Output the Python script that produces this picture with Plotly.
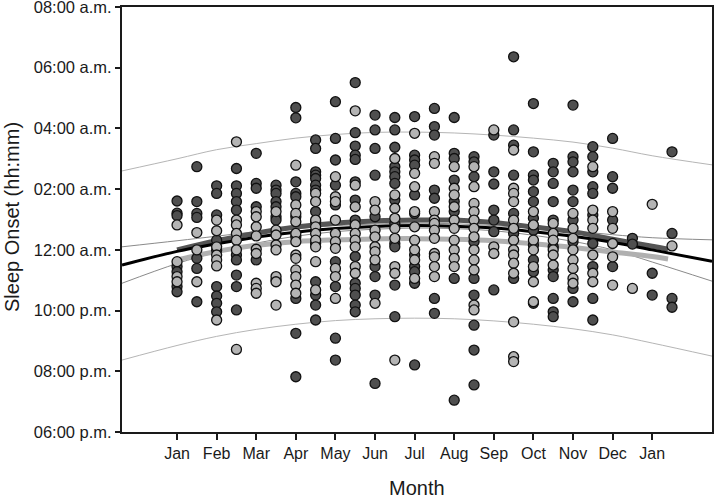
import plotly.graph_objects as go

# ---- data (hours; 24 = midnight, values > 24 are after midnight) ----
column_months = [1, 1.5, 2, 2.5, 3, 3.5, 4, 4.5, 5, 5.5, 6, 6.5, 7, 7.5,
                 8, 8.5, 9, 9.5, 10, 10.5, 11, 11.5, 12, 12.5, 13, 13.5]

dark_values = [
    [25.61, 25.21, 25.13, 23.45, 23.28, 22.79, 22.62],
    [26.74, 25.59, 25.2, 25.07, 23.72, 23.39, 22.29],
    [26.11, 25.86, 25.15, 24.32, 23.99, 22.79, 22.48, 22.24, 21.96],
    [26.68, 26.11, 25.86, 25.59, 25.31, 23.83, 23.67, 23.17, 22.79, 22.02],
    [27.18, 26.19, 26.03, 25.42, 23.67],
    [26.13, 25.97, 25.86, 25.59, 25.42, 25.09, 24.98, 23.01],
    [28.69, 28.35, 26.24, 25.86, 25.75, 25.09, 24.43, 22.4, 21.25, 19.82],
    [27.62, 27.34, 26.57, 26.46, 26.35, 26.13, 25.97, 25.26, 24.93, 24.21, 22.95, 22.51, 22.18, 21.69],
    [28.88, 27.67, 26.96, 26.13, 25.48, 23.61, 22.79, 21.09, 20.37],
    [29.51, 27.86, 27.42, 27.12, 26.98, 26.24, 25.64, 24.98, 23.78, 22.9, 22.73, 22.51, 22.18, 21.96],
    [28.44, 27.95, 27.34, 26.46, 25.09, 23.45, 23.12, 22.51, 19.6],
    [28.36, 27.95, 27.38, 26.74, 26.57, 26.41, 26.19, 25.64, 24.87, 24.21, 24.1, 22.84, 21.8],
    [28.39, 27.12, 26.96, 26.79, 25.81, 25.2, 23.83, 23.45, 23.28, 22.9, 20.21],
    [28.66, 28.06, 27.78, 25.97, 25.7, 22.4, 21.91],
    [28.36, 27.18, 27.01, 26.3, 25.59, 25.26, 23.06, 19.05],
    [27.07, 26.9, 26.41, 24.27, 23.06, 22.51, 21.52, 20.7, 19.55],
    [27.78, 26.57, 26.17, 25.31, 24.98, 24.6, 22.68],
    [30.36, 27.95, 27.45, 26.46, 25.2, 24.54, 23.06],
    [28.82, 27.23, 26.46, 26.3, 25.92, 25.59, 25.04, 24.65, 24.16, 23.67, 23.28, 22.24],
    [26.85, 26.57, 26.19, 25.59, 24.98, 24.1, 23.34, 23.12, 22.4, 21.96, 21.8],
    [28.77, 27.07, 26.9, 26.57, 25.97, 25.59, 24.98, 24.27, 22.73, 22.29],
    [27.4, 27.07, 26.57, 26.08, 25.86, 25.15, 24.21, 23.45, 22.4, 21.69],
    [27.67, 26.41, 26.03, 24.98, 23.45],
    [24.38, 24.19],
    [23.23, 22.51],
    [27.23, 24.54, 22.4, 22.11],
]

light_values = [
    [24.82, 23.61, 23.12, 22.95],
    [24.57, 24.0, 22.95],
    [24.98, 24.63, 24.1, 23.83, 23.67, 23.47, 21.69],
    [27.56, 24.98, 24.82, 24.54, 24.32, 24.0, 20.72],
    [25.26, 25.09, 24.76, 24.46, 24.02, 23.88, 22.9, 22.73, 22.57],
    [25.26, 24.65, 24.49, 24.16, 24.0, 23.12, 22.95, 22.18],
    [26.79, 25.48, 25.2, 24.93, 24.54, 24.27, 23.83, 23.72, 23.34, 23.12, 22.84, 22.57],
    [25.86, 25.59, 24.98, 24.76, 24.54, 24.32, 24.1, 23.61, 22.68],
    [26.41, 25.75, 25.59, 24.98, 24.54, 24.27, 24.05, 23.39, 23.12, 22.4],
    [28.58, 26.13, 25.42, 24.82, 24.54, 24.32, 24.1, 23.45, 23.23],
    [25.59, 25.31, 24.65, 24.43, 24.1, 23.94, 23.67, 22.24],
    [27.01, 25.81, 25.37, 25.04, 24.71, 24.38, 23.45, 23.23, 20.37],
    [27.84, 26.52, 26.08, 25.26, 24.76, 24.32, 24.0, 23.67, 23.06],
    [27.07, 26.85, 25.26, 24.98, 24.87, 24.65, 24.38, 23.88, 23.77, 23.45, 23.12],
    [26.74, 26.03, 25.81, 25.42, 24.98, 24.71, 24.32, 24.0, 23.72, 23.45],
    [26.74, 26.08, 25.53, 25.26, 24.98, 24.71, 24.43, 24.0, 23.67, 23.34, 22.18, 22.02],
    [27.95, 24.1, 23.88],
    [27.29, 26.03, 25.86, 25.59, 24.98, 24.71, 24.32, 24.0, 23.83, 23.56, 23.23, 21.63, 20.48, 20.32],
    [25.26, 24.82, 24.32, 24.0, 23.45, 22.95, 22.29],
    [24.87, 24.54, 24.32, 24.0, 23.83, 23.5],
    [25.2, 24.71, 24.38, 24.0, 23.67, 23.39, 23.06, 22.9],
    [26.74, 25.31, 24.98, 24.71, 23.83, 23.23, 22.95],
    [25.26, 24.71, 24.21, 23.77, 22.84],
    [22.73],
    [25.5],
    [24.13],
]

# fitted curves
curve_months = [-0.39, 1, 2, 3, 4, 5, 6, 7, 8, 9, 10, 11, 12, 13, 14.51]
fit_all = [23.5, 23.95, 24.2, 24.42, 24.58, 24.7, 24.77, 24.8, 24.78, 24.72, 24.6, 24.45, 24.25, 24.0, 23.62]
ci_upper = [24.1, 24.3, 24.45, 24.6, 24.7, 24.8, 24.85, 24.88, 24.86, 24.8, 24.72, 24.62, 24.5, 24.4, 24.33]
ci_lower = [22.9, 23.55, 23.92, 24.22, 24.45, 24.6, 24.68, 24.72, 24.7, 24.63, 24.48, 24.28, 24.0, 23.6, 22.97]
pi_upper = [26.6, 27.0, 27.3, 27.5, 27.68, 27.8, 27.87, 27.88, 27.85, 27.78, 27.68, 27.55, 27.35, 27.1, 26.8]
pi_lower = [20.37, 20.85, 21.15, 21.38, 21.55, 21.67, 21.73, 21.75, 21.73, 21.66, 21.55, 21.4, 21.2, 20.93, 20.5]

group_months = [1, 2, 3, 4, 5, 6, 7, 8, 9, 10, 11, 12, 13, 13.4]
fit_dark = [24.0, 24.3, 24.55, 24.75, 24.88, 24.95, 24.98, 24.98, 24.9, 24.75, 24.6, 24.35, 24.12, 24.02]
fit_light = [23.67, 23.95, 24.15, 24.27, 24.33, 24.36, 24.37, 24.35, 24.3, 24.2, 24.08, 23.93, 23.78, 23.7]

tick_months = [1, 2, 3, 4, 5, 6, 7, 8, 9, 10, 11, 12, 13]
tick_labels = ["Jan", "Feb", "Mar", "Apr", "May", "Jun", "Jul", "Aug", "Sep", "Oct", "Nov", "Dec", "Jan"]
y_tick_hours = [18, 20, 22, 24, 26, 28, 30, 32]
y_tick_labels = ["06:00 p.m.", "08:00 p.m.", "10:00 p.m.", "12:00 a.m.",
                 "02:00 a.m.", "04:00 a.m.", "06:00 a.m.", "08:00 a.m."]

# ---- figure ----
fig = go.Figure()

def line(x, y, color, width):
    fig.add_trace(go.Scatter(x=x, y=y, mode="lines", line=dict(color=color, width=width, shape="spline"),
                             hoverinfo="skip", showlegend=False))

line(curve_months, pi_upper, "#b5b5b5", 1)
line(curve_months, pi_lower, "#b5b5b5", 1)
line(curve_months, ci_upper, "#8a8a8a", 1)
line(curve_months, ci_lower, "#8a8a8a", 1)
line(group_months, fit_light, "#b0b0b0", 5)
line(group_months, fit_dark, "#555555", 5)
line(curve_months, fit_all, "#000000", 3)

dx, dy, lx, ly = [], [], [], []
for m, ds, ls in zip(column_months, dark_values, light_values):
    dx += [m] * len(ds)
    dy += ds
    lx += [m] * len(ls)
    ly += ls

marker_line = dict(color="#111111", width=1.3)
fig.add_trace(go.Scatter(x=dx, y=dy, mode="markers", showlegend=False,
                         marker=dict(size=10, color="#4f4f4f", line=marker_line)))
fig.add_trace(go.Scatter(x=lx, y=ly, mode="markers", showlegend=False,
                         marker=dict(size=10, color="#b4b4b4", line=marker_line)))

W, H = 714, 499
ML, MR, MT, MB = 122, 2, 7, 67
font_family = "Liberation Sans, Arial, sans-serif"
fig.update_layout(
    width=W, height=H,
    margin=dict(l=ML, r=MR, t=MT, b=MB, pad=0),
    paper_bgcolor="white", plot_bgcolor="white",
    font=dict(family=font_family, color="#1a1a1a", size=16),
    xaxis=dict(range=[-0.39, 14.51], tickmode="array", tickvals=tick_months, ticktext=tick_labels,
               showgrid=False, zeroline=False, showline=True, linecolor="#1a1a1a", linewidth=2,
               mirror=True, ticks="outside", ticklen=6, tickwidth=1.5, tickcolor="#1a1a1a",
               tickfont=dict(size=16), automargin=False),
    yaxis=dict(range=[18, 32], tickmode="array", tickvals=y_tick_hours, ticktext=y_tick_labels,
               showgrid=False, zeroline=False, showline=True, linecolor="#1a1a1a", linewidth=2,
               mirror=True, ticks="outside", ticklen=5, tickwidth=1.5, tickcolor="#1a1a1a",
               tickfont=dict(size=16.5), automargin=False, ticklabeloverflow="allow"),
)
pw, ph = W - ML - MR, H - MT - MB
fig.add_annotation(text="Month", x=(417 - ML) / pw, y=(H - MB - 488) / ph,
                   xref="paper", yref="paper", showarrow=False, yanchor="middle",
                   font=dict(size=20))
fig.add_annotation(text="Sleep Onset (hh:mm)", x=(12 - ML) / pw, y=(H - MB - 217) / ph,
                   xref="paper", yref="paper", showarrow=False, textangle=-90,
                   xanchor="center", yanchor="middle", font=dict(size=20))

fig.write_html("out.html", config={"displayModeBar": False},
               post_script="document.body.style.margin='0px';document.body.style.overflow='hidden';")
